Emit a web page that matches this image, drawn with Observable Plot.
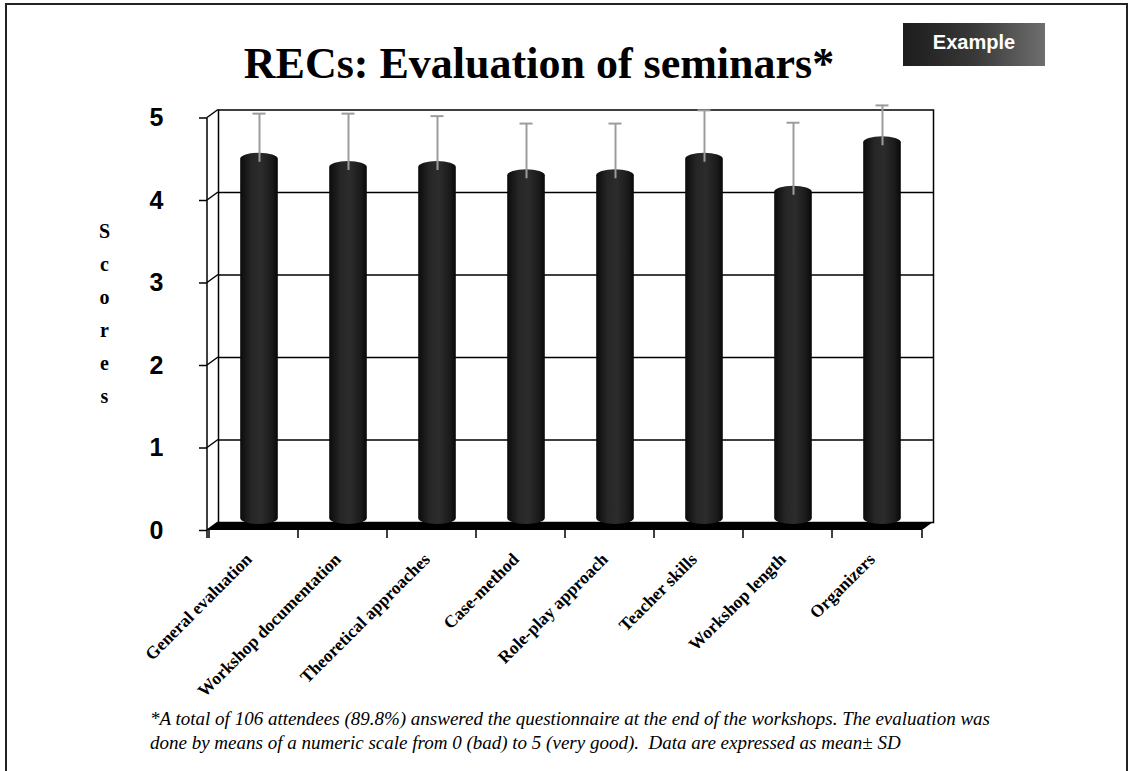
<!DOCTYPE html>
<html>
<head>
<meta charset="utf-8">
<script src="https://cdn.jsdelivr.net/npm/d3@7"></script>
<script src="https://cdn.jsdelivr.net/npm/@observablehq/plot@0.6"></script>
<style>
  html, body { margin: 0; padding: 0; background: #fff; }
  #page { position: relative; width: 1128px; height: 771px; overflow: hidden; background: #fff; }
  .bt { position: absolute; left: 5px; top: 3px; width: 1123px; height: 2px; background: #222; }
  .bl { position: absolute; left: 5px; top: 3px; width: 2px; height: 768px; background: #222; }
  .br { position: absolute; left: 1126px; top: 3px; width: 2px; height: 768px; background: #222; }
  #header { position: relative; height: 80px; }
  #title { position: absolute; left: 0; width: 1078px; top: 42px; text-align: center;
           font-family: "Liberation Serif", "Times New Roman", serif; font-weight: bold;
           font-size: 44px; line-height: 44px; color: #000; white-space: nowrap; }
  #badge { position: absolute; left: 903px; top: 23px; width: 142px; height: 43px;
           background: linear-gradient(90deg, #1c1c1c 0%, #383838 50%, #6e6e6e 100%);
           color: #fff; font-family: "Liberation Sans", Arial, sans-serif; font-weight: bold;
           font-size: 20px; line-height: 38px; text-align: center; box-sizing: border-box; }
  #chart svg { display: block; overflow: visible; }
  #note { margin: 27px 0 0 150px; font-family: "Liberation Serif", "Times New Roman", serif;
          font-style: italic; font-size: 19px; line-height: 24px; color: #000; white-space: nowrap; }
</style>
</head>
<body>
<div id="page">
  <div class="bt"></div><div class="bl"></div><div class="br"></div>
  <div id="header">
    <div id="title">RECs: Evaluation of seminars*</div>
    <div id="badge">Example</div>
  </div>
  <div id="chart"></div>
  <div id="note">*A total of 106 attendees (89.8%) answered the questionnaire at the end of the workshops. The evaluation was<br>done by means of a numeric scale from 0 (bad) to 5 (very good).&nbsp; Data are expressed as mean± SD</div>
</div>
<script>
const categories = [
  "General evaluation",
  "Workshop documentation",
  "Theoretical approaches",
  "Case-method",
  "Role-play approach",
  "Teacher skills",
  "Workshop length",
  "Organizers"
];
const means = [4.5, 4.4, 4.4, 4.3, 4.3, 4.5, 4.1, 4.7];
const sds = [0.48, 0.58, 0.55, 0.56, 0.56, 0.52, 0.77, 0.38];
const yTicks = [0, 1, 2, 3, 4, 5];
const yLabel = "Scores";

const data = categories.map((c, i) => ({category: c, mean: means[i], sd: sds[i], upper: means[i] + sds[i]}));

const depthX = 11, depthY = -8;

function defs() {
  const g = d3.create("svg:defs");
  const grad = g.append("linearGradient").attr("id", "cyl").attr("x1", "0").attr("x2", "1").attr("y1", "0").attr("y2", "0");
  grad.append("stop").attr("offset", "0%").attr("stop-color", "#0b0b0b");
  grad.append("stop").attr("offset", "30%").attr("stop-color", "#262626");
  grad.append("stop").attr("offset", "55%").attr("stop-color", "#2c2c2c");
  grad.append("stop").attr("offset", "85%").attr("stop-color", "#1a1a1a");
  grad.append("stop").attr("offset", "100%").attr("stop-color", "#080808");
  return g.node();
}

function decor(index, scales, values, dims) {
  const x = scales.x, y = scales.y;
  const x0 = dims.marginLeft, x1 = dims.width - dims.marginRight;
  const y0 = y(0), yTop = y(yTicks[yTicks.length - 1]);
  const g = d3.create("svg:g");
  g.append("path")
    .attr("d", `M${x0},${y0}L${x1},${y0}L${x1 + depthX},${y0 + depthY}L${x0 + depthX},${y0 + depthY}Z`)
    .attr("fill", "#000");
  g.append("line").attr("x1", x0).attr("x2", x0).attr("y1", yTop).attr("y2", y0 + 8)
    .attr("stroke", "#000").attr("stroke-width", 1.5);
  for (const t of yTicks) {
    g.append("line").attr("x1", x0).attr("y1", y(t)).attr("x2", x0 + depthX).attr("y2", y(t) + depthY)
      .attr("stroke", "#000").attr("stroke-width", 1.5);
  }
  const edges = categories.map(c => x(c)).concat([x1]);
  for (const e of edges) {
    g.append("line").attr("x1", e).attr("x2", e).attr("y1", y0).attr("y2", y0 + 8)
      .attr("stroke", "#000").attr("stroke-width", 1.5);
  }
  return g.node();
}

const chart = Plot.plot({
  width: 1128,
  height: 600,
  marginLeft: 207,
  marginRight: 206,
  marginTop: 37.5,
  marginBottom: 150,
  style: {background: "transparent", fontFamily: "Liberation Sans, Arial, sans-serif", overflow: "visible"},
  x: {type: "band", domain: categories, padding: 0, label: null},
  y: {domain: [0, 5], label: null},
  marks: [
    defs,
    Plot.frame({dx: depthX, dy: depthY, stroke: "#000", strokeWidth: 1.5, fill: "white"}),
    Plot.ruleY(yTicks.slice(1, 5), {dx: depthX, dy: depthY, stroke: "#000", strokeWidth: 1.5}),
    decor,
    Plot.axisY(yTicks, {tickSize: 8, tickPadding: 36, tickFormat: d3.format("d"), label: null, fontSize: 25, fontWeight: "bold",
      fontFamily: "Liberation Sans, Arial, sans-serif", strokeWidth: 1.5}),
    Plot.axisX({tickSize: 0, tickPadding: 26, tickRotate: -45, label: null, fontSize: 17.5, fontWeight: "bold",
      fontFamily: "Liberation Serif, Times New Roman, serif", dx: -5}),
    Plot.barY(data, {x: "category", y: "mean", fill: "url(#cyl)", insetLeft: 25.7, insetRight: 25.7,
      rx: 19, ry: 6, dx: 5.5, dy: -6}),
    Plot.ruleX(data, {x: "category", y1: "upper", y2: "mean", stroke: "#9c9c9c", strokeWidth: 2,
      insetBottom: -9, dx: 5.5, dy: -6}),
    Plot.tickY(data, {x: "category", y: "upper", stroke: "#9c9c9c", strokeWidth: 2,
      insetLeft: 38, insetRight: 38, dx: 5.5, dy: -6}),
    Plot.text([yLabel.split("").join("\n")], {text: d => d, frameAnchor: "left", dx: -103, dy: -14,
      lineHeight: 1.65, fontSize: 20, fontWeight: "bold", fontFamily: "Liberation Serif, Times New Roman, serif",
      textAnchor: "middle", fill: "#000"})
  ]
});
document.getElementById("chart").appendChild(chart);
</script>
</body>
</html>
